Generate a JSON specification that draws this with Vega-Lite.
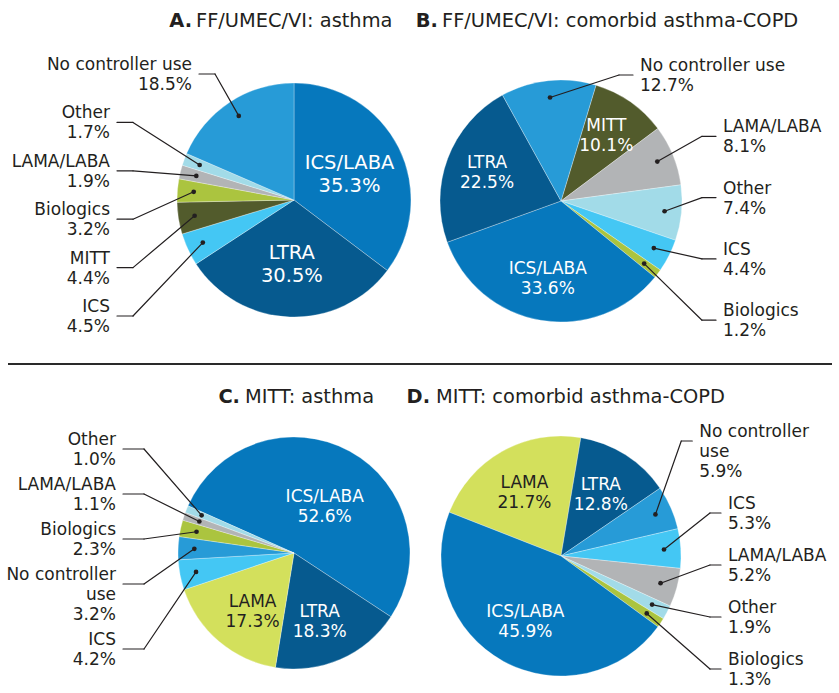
{
  "$schema": "https://vega.github.io/schema/vega-lite/v6.json",
  "padding": 0,
  "background": "white",
  "config": {"view": {"stroke": null}},
  "datasets": {
    "pies": [
      {"pie": "A", "category": "ICS/LABA", "value": 35.3, "order": 1},
      {"pie": "A", "category": "LTRA", "value": 30.5, "order": 2},
      {"pie": "A", "category": "ICS", "value": 4.5, "order": 3},
      {"pie": "A", "category": "MITT", "value": 4.4, "order": 4},
      {"pie": "A", "category": "Biologics", "value": 3.2, "order": 5},
      {"pie": "A", "category": "LAMA/LABA", "value": 1.9, "order": 6},
      {"pie": "A", "category": "Other", "value": 1.7, "order": 7},
      {"pie": "A", "category": "No controller use", "value": 18.5, "order": 8},
      {"pie": "B", "category": "MITT", "value": 10.1, "order": 1},
      {"pie": "B", "category": "LAMA/LABA", "value": 8.1, "order": 2},
      {"pie": "B", "category": "Other", "value": 7.4, "order": 3},
      {"pie": "B", "category": "ICS", "value": 4.4, "order": 4},
      {"pie": "B", "category": "Biologics", "value": 1.2, "order": 5},
      {"pie": "B", "category": "ICS/LABA", "value": 33.6, "order": 6},
      {"pie": "B", "category": "LTRA", "value": 22.5, "order": 7},
      {"pie": "B", "category": "No controller use", "value": 12.7, "order": 8},
      {"pie": "C", "category": "ICS/LABA", "value": 52.6, "order": 1},
      {"pie": "C", "category": "LTRA", "value": 18.3, "order": 2},
      {"pie": "C", "category": "LAMA", "value": 17.3, "order": 3},
      {"pie": "C", "category": "ICS", "value": 4.2, "order": 4},
      {"pie": "C", "category": "No controller use", "value": 3.2, "order": 5},
      {"pie": "C", "category": "Biologics", "value": 2.3, "order": 6},
      {"pie": "C", "category": "LAMA/LABA", "value": 1.1, "order": 7},
      {"pie": "C", "category": "Other", "value": 1.0, "order": 8},
      {"pie": "D", "category": "LAMA", "value": 21.7, "order": 1},
      {"pie": "D", "category": "LTRA", "value": 12.8, "order": 2},
      {"pie": "D", "category": "No controller use", "value": 5.9, "order": 3},
      {"pie": "D", "category": "ICS", "value": 5.3, "order": 4},
      {"pie": "D", "category": "LAMA/LABA", "value": 5.2, "order": 5},
      {"pie": "D", "category": "Other", "value": 1.9, "order": 6},
      {"pie": "D", "category": "Biologics", "value": 1.3, "order": 7},
      {"pie": "D", "category": "ICS/LABA", "value": 45.9, "order": 8}
    ]
  },
  "data": {"name": "pies"},
  "spacing": 0,
  "vconcat": [
    {
      "spacing": 0,
      "bounds": "flush",
      "hconcat": [
        {
          "width": 420,
          "height": 360,
          "transform": [
            {"filter": "datum.pie == 'A'"},
            {"joinaggregate": [{"op": "sum", "field": "value", "as": "total"}]},
            {"window": [{"op": "sum", "field": "value", "as": "cum"}], "sort": [{"field": "order", "order": "ascending"}], "frame": [null, 0]},
            {"calculate": "(0 + 2*PI*(datum.cum - datum.value/2)/datum.total + 4*PI) % (2*PI)", "as": "mid"},
            {"calculate": "datum.value >= 10 && datum.category != 'No controller use'", "as": "inside"},
            {"calculate": "datum.category + '\\n' + format(datum.value, '.1f') + '%'", "as": "label"},
            {"calculate": "length(split(datum.label, '\\n')) - 2", "as": "extra"},
            {"calculate": "-datum.mid", "as": "key"},
            {"window": [{"op": "row_number", "as": "rank"}, {"op": "sum", "field": "extra", "as": "cumx"}], "groupby": ["inside"], "sort": [{"field": "key", "order": "ascending"}], "frame": [null, 0]},
            {"calculate": "-126 + 48.4*(datum.rank - 1) + 20*(datum.cumx - datum.extra)", "as": "ly"},
            {"calculate": "-1*min(184, (datum.ly < 0 ? sqrt(max(0, 117*117 - datum.ly*datum.ly)) : 117) + 102)", "as": "tx"},
            {"calculate": "datum.tx + 7", "as": "nx"},
            {"calculate": "datum.nx + 16", "as": "ex"},
            {"calculate": "datum.ly - 19", "as": "ty"},
            {"calculate": "0.86*117*sin(datum.mid)", "as": "px"},
            {"calculate": "-0.86*117*cos(datum.mid)", "as": "py"},
            {"calculate": "62*sin(datum.mid)", "as": "ix"},
            {"calculate": "-62*cos(datum.mid) - 20", "as": "iy"}
          ],
          "layer": [
            {
              "mark": {"type": "arc", "outerRadius": 117, "stroke": "#ffffff", "strokeWidth": 0.3},
              "encoding": {
                "theta": {"field": "value", "type": "quantitative", "stack": true, "scale": {"range": [0, 6.283185]}},
                "order": {"field": "order", "type": "quantitative"},
                "color": {"field": "category", "type": "nominal", "legend": null, "scale": {"domain": ["ICS/LABA", "LTRA", "ICS", "MITT", "Biologics", "LAMA/LABA", "Other", "No controller use", "LAMA"], "range": ["#0678bd", "#065a8f", "#44c7f4", "#525b2c", "#abc43f", "#b2b4b6", "#a2dbe8", "#279bd7", "#d3e05c"]}},
                "x": {"datum": 0, "type": "quantitative", "axis": null, "scale": {"domain": [-294, 126], "nice": false, "zero": false}},
                "y": {"datum": 0, "type": "quantitative", "axis": null, "scale": {"domain": [-200, 160], "reverse": true, "nice": false, "zero": false}}
              }
            },
            {
              "transform": [{"filter": "datum.inside"}],
              "mark": {"type": "text", "font": "DejaVu Sans", "fontSize": 19.5, "lineHeight": 23, "align": "center", "baseline": "line-top", "lineBreak": "\n"},
              "encoding": {
                "x": {"field": "ix", "type": "quantitative", "axis": null, "scale": {"domain": [-294, 126], "nice": false, "zero": false}},
                "y": {"field": "iy", "type": "quantitative", "axis": null, "scale": {"domain": [-200, 160], "reverse": true, "nice": false, "zero": false}},
                "text": {"field": "label"},
                "color": {"condition": {"test": "datum.category == 'LAMA'", "value": "#231f20"}, "value": "#ffffff"}
              }
            },
            {
              "transform": [{"filter": "!datum.inside"}],
              "mark": {"type": "rule", "color": "#231f20", "strokeWidth": 1.2, "strokeCap": "round"},
              "encoding": {
                "x": {"field": "px", "type": "quantitative", "axis": null, "scale": {"domain": [-294, 126], "nice": false, "zero": false}},
                "y": {"field": "py", "type": "quantitative", "axis": null, "scale": {"domain": [-200, 160], "reverse": true, "nice": false, "zero": false}},
                "x2": {"field": "ex"},
                "y2": {"field": "ly"}
              }
            },
            {
              "transform": [{"filter": "!datum.inside"}],
              "mark": {"type": "rule", "color": "#231f20", "strokeWidth": 1.2, "strokeCap": "round"},
              "encoding": {
                "x": {"field": "ex", "type": "quantitative", "axis": null, "scale": {"domain": [-294, 126], "nice": false, "zero": false}},
                "y": {"field": "ly", "type": "quantitative", "axis": null, "scale": {"domain": [-200, 160], "reverse": true, "nice": false, "zero": false}},
                "x2": {"field": "nx"},
                "y2": {"field": "ly"}
              }
            },
            {
              "transform": [{"filter": "!datum.inside"}],
              "mark": {"type": "circle", "size": 22, "color": "#231f20", "opacity": 1},
              "encoding": {
                "x": {"field": "px", "type": "quantitative", "axis": null, "scale": {"domain": [-294, 126], "nice": false, "zero": false}},
                "y": {"field": "py", "type": "quantitative", "axis": null, "scale": {"domain": [-200, 160], "reverse": true, "nice": false, "zero": false}}
              }
            },
            {
              "transform": [{"filter": "!datum.inside"}],
              "mark": {"type": "text", "font": "DejaVu Sans", "fontSize": 17, "lineHeight": 20, "align": "right", "baseline": "line-top", "lineBreak": "\n", "color": "#231f20"},
              "encoding": {
                "x": {"field": "tx", "type": "quantitative", "axis": null, "scale": {"domain": [-294, 126], "nice": false, "zero": false}},
                "y": {"field": "ty", "type": "quantitative", "axis": null, "scale": {"domain": [-200, 160], "reverse": true, "nice": false, "zero": false}},
                "text": {"field": "label"}
              }
            },
            {
              "transform": [{"filter": "datum.order == 1"}],
              "mark": {"type": "text", "text": "A.", "font": "DejaVu Sans", "fontSize": 19.4, "fontWeight": "bold", "align": "right", "baseline": "alphabetic", "color": "#231f20"},
              "encoding": {
                "x": {"datum": -102, "type": "quantitative", "axis": null, "scale": {"domain": [-294, 126], "nice": false, "zero": false}},
                "y": {"datum": -173, "type": "quantitative", "axis": null, "scale": {"domain": [-200, 160], "reverse": true, "nice": false, "zero": false}}
              }
            },
            {
              "transform": [{"filter": "datum.order == 1"}],
              "mark": {"type": "text", "text": "FF/UMEC/VI: asthma", "font": "DejaVu Sans", "fontSize": 19.4, "align": "left", "baseline": "alphabetic", "color": "#231f20"},
              "encoding": {
                "x": {"datum": -98, "type": "quantitative", "axis": null, "scale": {"domain": [-294, 126], "nice": false, "zero": false}},
                "y": {"datum": -173, "type": "quantitative", "axis": null, "scale": {"domain": [-200, 160], "reverse": true, "nice": false, "zero": false}}
              }
            }
          ]
        },
        {
          "width": 419,
          "height": 360,
          "transform": [
            {"filter": "datum.pie == 'B'"},
            {"joinaggregate": [{"op": "sum", "field": "value", "as": "total"}]},
            {"window": [{"op": "sum", "field": "value", "as": "cum"}], "sort": [{"field": "order", "order": "ascending"}], "frame": [null, 0]},
            {"calculate": "(0.29322 + 2*PI*(datum.cum - datum.value/2)/datum.total + 4*PI) % (2*PI)", "as": "mid"},
            {"calculate": "datum.value >= 10 && datum.category != 'No controller use'", "as": "inside"},
            {"calculate": "datum.category + '\\n' + format(datum.value, '.1f') + '%'", "as": "label"},
            {"calculate": "length(split(datum.label, '\\n')) - 2", "as": "extra"},
            {"calculate": "datum.mid > PI ? datum.mid - 2*PI : datum.mid", "as": "key"},
            {"window": [{"op": "row_number", "as": "rank"}, {"op": "sum", "field": "extra", "as": "cumx"}], "groupby": ["inside"], "sort": [{"field": "key", "order": "ascending"}], "frame": [null, 0]},
            {"calculate": "-126 + 61.3*(datum.rank - 1) + 20*(datum.cumx - datum.extra)", "as": "ly"},
            {"calculate": "min(162, (datum.ly < 0 ? sqrt(max(0, 121*121 - datum.ly*datum.ly)) : 121) + 79)", "as": "tx"},
            {"calculate": "datum.tx - 7", "as": "nx"},
            {"calculate": "datum.nx - 14", "as": "ex"},
            {"calculate": "datum.ly - 19", "as": "ty"},
            {"calculate": "0.86*121*sin(datum.mid)", "as": "px"},
            {"calculate": "-0.86*121*cos(datum.mid)", "as": "py"},
            {"calculate": "79*sin(datum.mid)", "as": "ix"},
            {"calculate": "-79*cos(datum.mid) - 20", "as": "iy"}
          ],
          "layer": [
            {
              "mark": {"type": "arc", "outerRadius": 121, "stroke": "#ffffff", "strokeWidth": 0.3},
              "encoding": {
                "theta": {"field": "value", "type": "quantitative", "stack": true, "scale": {"range": [0.29322, 6.57641]}},
                "order": {"field": "order", "type": "quantitative"},
                "color": {"field": "category", "type": "nominal", "legend": null, "scale": {"domain": ["ICS/LABA", "LTRA", "ICS", "MITT", "Biologics", "LAMA/LABA", "Other", "No controller use", "LAMA"], "range": ["#0678bd", "#065a8f", "#44c7f4", "#525b2c", "#abc43f", "#b2b4b6", "#a2dbe8", "#279bd7", "#d3e05c"]}},
                "x": {"datum": 0, "type": "quantitative", "axis": null, "scale": {"domain": [-141, 278], "nice": false, "zero": false}},
                "y": {"datum": 0, "type": "quantitative", "axis": null, "scale": {"domain": [-201, 159], "reverse": true, "nice": false, "zero": false}}
              }
            },
            {
              "transform": [{"filter": "datum.inside"}],
              "mark": {"type": "text", "font": "DejaVu Sans", "fontSize": 17, "lineHeight": 20, "align": "center", "baseline": "line-top", "lineBreak": "\n"},
              "encoding": {
                "x": {"field": "ix", "type": "quantitative", "axis": null, "scale": {"domain": [-141, 278], "nice": false, "zero": false}},
                "y": {"field": "iy", "type": "quantitative", "axis": null, "scale": {"domain": [-201, 159], "reverse": true, "nice": false, "zero": false}},
                "text": {"field": "label"},
                "color": {"condition": {"test": "datum.category == 'LAMA'", "value": "#231f20"}, "value": "#ffffff"}
              }
            },
            {
              "transform": [{"filter": "!datum.inside"}],
              "mark": {"type": "rule", "color": "#231f20", "strokeWidth": 1.2, "strokeCap": "round"},
              "encoding": {
                "x": {"field": "px", "type": "quantitative", "axis": null, "scale": {"domain": [-141, 278], "nice": false, "zero": false}},
                "y": {"field": "py", "type": "quantitative", "axis": null, "scale": {"domain": [-201, 159], "reverse": true, "nice": false, "zero": false}},
                "x2": {"field": "ex"},
                "y2": {"field": "ly"}
              }
            },
            {
              "transform": [{"filter": "!datum.inside"}],
              "mark": {"type": "rule", "color": "#231f20", "strokeWidth": 1.2, "strokeCap": "round"},
              "encoding": {
                "x": {"field": "ex", "type": "quantitative", "axis": null, "scale": {"domain": [-141, 278], "nice": false, "zero": false}},
                "y": {"field": "ly", "type": "quantitative", "axis": null, "scale": {"domain": [-201, 159], "reverse": true, "nice": false, "zero": false}},
                "x2": {"field": "nx"},
                "y2": {"field": "ly"}
              }
            },
            {
              "transform": [{"filter": "!datum.inside"}],
              "mark": {"type": "circle", "size": 22, "color": "#231f20", "opacity": 1},
              "encoding": {
                "x": {"field": "px", "type": "quantitative", "axis": null, "scale": {"domain": [-141, 278], "nice": false, "zero": false}},
                "y": {"field": "py", "type": "quantitative", "axis": null, "scale": {"domain": [-201, 159], "reverse": true, "nice": false, "zero": false}}
              }
            },
            {
              "transform": [{"filter": "!datum.inside"}],
              "mark": {"type": "text", "font": "DejaVu Sans", "fontSize": 17, "lineHeight": 20, "align": "left", "baseline": "line-top", "lineBreak": "\n", "color": "#231f20"},
              "encoding": {
                "x": {"field": "tx", "type": "quantitative", "axis": null, "scale": {"domain": [-141, 278], "nice": false, "zero": false}},
                "y": {"field": "ty", "type": "quantitative", "axis": null, "scale": {"domain": [-201, 159], "reverse": true, "nice": false, "zero": false}},
                "text": {"field": "label"}
              }
            },
            {
              "transform": [{"filter": "datum.order == 1"}],
              "mark": {"type": "text", "text": "B.", "font": "DejaVu Sans", "fontSize": 19.4, "fontWeight": "bold", "align": "right", "baseline": "alphabetic", "color": "#231f20"},
              "encoding": {
                "x": {"datum": -123, "type": "quantitative", "axis": null, "scale": {"domain": [-141, 278], "nice": false, "zero": false}},
                "y": {"datum": -174, "type": "quantitative", "axis": null, "scale": {"domain": [-201, 159], "reverse": true, "nice": false, "zero": false}}
              }
            },
            {
              "transform": [{"filter": "datum.order == 1"}],
              "mark": {"type": "text", "text": "FF/UMEC/VI: comorbid asthma-COPD", "font": "DejaVu Sans", "fontSize": 19.4, "align": "left", "baseline": "alphabetic", "color": "#231f20"},
              "encoding": {
                "x": {"datum": -119, "type": "quantitative", "axis": null, "scale": {"domain": [-141, 278], "nice": false, "zero": false}},
                "y": {"datum": -174, "type": "quantitative", "axis": null, "scale": {"domain": [-201, 159], "reverse": true, "nice": false, "zero": false}}
              }
            }
          ]
        }
      ]
    },
    {
      "spacing": 0,
      "bounds": "flush",
      "hconcat": [
        {
          "width": 420,
          "height": 333,
          "transform": [
            {"filter": "datum.pie == 'C'"},
            {"joinaggregate": [{"op": "sum", "field": "value", "as": "total"}]},
            {"window": [{"op": "sum", "field": "value", "as": "cum"}], "sort": [{"field": "order", "order": "ascending"}], "frame": [null, 0]},
            {"calculate": "(-1.15192 + 2*PI*(datum.cum - datum.value/2)/datum.total + 4*PI) % (2*PI)", "as": "mid"},
            {"calculate": "datum.value >= 10 && datum.category != 'No controller use'", "as": "inside"},
            {"calculate": "replace(datum.category, 'No controller use', 'No controller\\nuse') + '\\n' + format(datum.value, '.1f') + '%'", "as": "label"},
            {"calculate": "length(split(datum.label, '\\n')) - 2", "as": "extra"},
            {"calculate": "-datum.mid", "as": "key"},
            {"window": [{"op": "row_number", "as": "rank"}, {"op": "sum", "field": "extra", "as": "cumx"}], "groupby": ["inside"], "sort": [{"field": "key", "order": "ascending"}], "frame": [null, 0]},
            {"calculate": "-104 + 45*(datum.rank - 1) + 20*(datum.cumx - datum.extra)", "as": "ly"},
            {"calculate": "-1*min(178, (datum.ly < 0 ? sqrt(max(0, 116*116 - datum.ly*datum.ly)) : 116) + 130)", "as": "tx"},
            {"calculate": "datum.tx + 7", "as": "nx"},
            {"calculate": "datum.nx + 21", "as": "ex"},
            {"calculate": "datum.ly - 19", "as": "ty"},
            {"calculate": "0.86*116*sin(datum.mid)", "as": "px"},
            {"calculate": "-0.86*116*cos(datum.mid)", "as": "py"},
            {"calculate": "64*sin(datum.mid)", "as": "ix"},
            {"calculate": "-64*cos(datum.mid) - 10", "as": "iy"}
          ],
          "layer": [
            {
              "transform": [{"filter": "datum.order == 1"}],
              "mark": {"type": "rule", "color": "#2a2a2a", "strokeWidth": 2},
              "encoding": {
                "x": {"datum": -286, "type": "quantitative", "axis": null, "scale": {"domain": [-294, 126], "nice": false, "zero": false}},
                "x2": {"datum": 126},
                "y": {"datum": -189, "type": "quantitative", "axis": null, "scale": {"domain": [-193, 140], "reverse": true, "nice": false, "zero": false}}
              }
            },
            {
              "mark": {"type": "arc", "outerRadius": 116, "stroke": "#ffffff", "strokeWidth": 0.3},
              "encoding": {
                "theta": {"field": "value", "type": "quantitative", "stack": true, "scale": {"range": [-1.15192, 5.13127]}},
                "order": {"field": "order", "type": "quantitative"},
                "color": {"field": "category", "type": "nominal", "legend": null, "scale": {"domain": ["ICS/LABA", "LTRA", "ICS", "MITT", "Biologics", "LAMA/LABA", "Other", "No controller use", "LAMA"], "range": ["#0678bd", "#065a8f", "#44c7f4", "#525b2c", "#abc43f", "#b2b4b6", "#a2dbe8", "#279bd7", "#d3e05c"]}},
                "x": {"datum": 0, "type": "quantitative", "axis": null, "scale": {"domain": [-294, 126], "nice": false, "zero": false}},
                "y": {"datum": 0, "type": "quantitative", "axis": null, "scale": {"domain": [-193, 140], "reverse": true, "nice": false, "zero": false}}
              }
            },
            {
              "transform": [{"filter": "datum.inside"}],
              "mark": {"type": "text", "font": "DejaVu Sans", "fontSize": 17, "lineHeight": 20, "align": "center", "baseline": "line-top", "lineBreak": "\n"},
              "encoding": {
                "x": {"field": "ix", "type": "quantitative", "axis": null, "scale": {"domain": [-294, 126], "nice": false, "zero": false}},
                "y": {"field": "iy", "type": "quantitative", "axis": null, "scale": {"domain": [-193, 140], "reverse": true, "nice": false, "zero": false}},
                "text": {"field": "label"},
                "color": {"condition": {"test": "datum.category == 'LAMA'", "value": "#231f20"}, "value": "#ffffff"}
              }
            },
            {
              "transform": [{"filter": "!datum.inside"}],
              "mark": {"type": "rule", "color": "#231f20", "strokeWidth": 1.2, "strokeCap": "round"},
              "encoding": {
                "x": {"field": "px", "type": "quantitative", "axis": null, "scale": {"domain": [-294, 126], "nice": false, "zero": false}},
                "y": {"field": "py", "type": "quantitative", "axis": null, "scale": {"domain": [-193, 140], "reverse": true, "nice": false, "zero": false}},
                "x2": {"field": "ex"},
                "y2": {"field": "ly"}
              }
            },
            {
              "transform": [{"filter": "!datum.inside"}],
              "mark": {"type": "rule", "color": "#231f20", "strokeWidth": 1.2, "strokeCap": "round"},
              "encoding": {
                "x": {"field": "ex", "type": "quantitative", "axis": null, "scale": {"domain": [-294, 126], "nice": false, "zero": false}},
                "y": {"field": "ly", "type": "quantitative", "axis": null, "scale": {"domain": [-193, 140], "reverse": true, "nice": false, "zero": false}},
                "x2": {"field": "nx"},
                "y2": {"field": "ly"}
              }
            },
            {
              "transform": [{"filter": "!datum.inside"}],
              "mark": {"type": "circle", "size": 22, "color": "#231f20", "opacity": 1},
              "encoding": {
                "x": {"field": "px", "type": "quantitative", "axis": null, "scale": {"domain": [-294, 126], "nice": false, "zero": false}},
                "y": {"field": "py", "type": "quantitative", "axis": null, "scale": {"domain": [-193, 140], "reverse": true, "nice": false, "zero": false}}
              }
            },
            {
              "transform": [{"filter": "!datum.inside"}],
              "mark": {"type": "text", "font": "DejaVu Sans", "fontSize": 17, "lineHeight": 20, "align": "right", "baseline": "line-top", "lineBreak": "\n", "color": "#231f20"},
              "encoding": {
                "x": {"field": "tx", "type": "quantitative", "axis": null, "scale": {"domain": [-294, 126], "nice": false, "zero": false}},
                "y": {"field": "ty", "type": "quantitative", "axis": null, "scale": {"domain": [-193, 140], "reverse": true, "nice": false, "zero": false}},
                "text": {"field": "label"}
              }
            },
            {
              "transform": [{"filter": "datum.order == 1"}],
              "mark": {"type": "text", "text": "C.", "font": "DejaVu Sans", "fontSize": 19.4, "fontWeight": "bold", "align": "right", "baseline": "alphabetic", "color": "#231f20"},
              "encoding": {
                "x": {"datum": -54, "type": "quantitative", "axis": null, "scale": {"domain": [-294, 126], "nice": false, "zero": false}},
                "y": {"datum": -150, "type": "quantitative", "axis": null, "scale": {"domain": [-193, 140], "reverse": true, "nice": false, "zero": false}}
              }
            },
            {
              "transform": [{"filter": "datum.order == 1"}],
              "mark": {"type": "text", "text": "MITT: asthma", "font": "DejaVu Sans", "fontSize": 19.4, "align": "left", "baseline": "alphabetic", "color": "#231f20"},
              "encoding": {
                "x": {"datum": -49, "type": "quantitative", "axis": null, "scale": {"domain": [-294, 126], "nice": false, "zero": false}},
                "y": {"datum": -150, "type": "quantitative", "axis": null, "scale": {"domain": [-193, 140], "reverse": true, "nice": false, "zero": false}}
              }
            }
          ]
        },
        {
          "width": 419,
          "height": 333,
          "transform": [
            {"filter": "datum.pie == 'D'"},
            {"joinaggregate": [{"op": "sum", "field": "value", "as": "total"}]},
            {"window": [{"op": "sum", "field": "value", "as": "cum"}], "sort": [{"field": "order", "order": "ascending"}], "frame": [null, 0]},
            {"calculate": "(-1.19730 + 2*PI*(datum.cum - datum.value/2)/datum.total + 4*PI) % (2*PI)", "as": "mid"},
            {"calculate": "datum.value >= 10 && datum.category != 'No controller use'", "as": "inside"},
            {"calculate": "replace(datum.category, 'No controller use', 'No controller\\nuse') + '\\n' + format(datum.value, '.1f') + '%'", "as": "label"},
            {"calculate": "length(split(datum.label, '\\n')) - 2", "as": "extra"},
            {"calculate": "datum.mid > PI ? datum.mid - 2*PI : datum.mid", "as": "key"},
            {"window": [{"op": "row_number", "as": "rank"}, {"op": "sum", "field": "extra", "as": "cumx"}], "groupby": ["inside"], "sort": [{"field": "key", "order": "ascending"}], "frame": [null, 0]},
            {"calculate": "-115 + 52*(datum.rank - 1) + 20*(datum.cumx - datum.extra)", "as": "ly"},
            {"calculate": "min(167, (datum.ly < 0 ? sqrt(max(0, 120*120 - datum.ly*datum.ly)) : 120) + 104)", "as": "tx"},
            {"calculate": "datum.tx - 7", "as": "nx"},
            {"calculate": "datum.nx - 11", "as": "ex"},
            {"calculate": "datum.ly - 19", "as": "ty"},
            {"calculate": "0.86*120*sin(datum.mid)", "as": "px"},
            {"calculate": "-0.86*120*cos(datum.mid)", "as": "py"},
            {"calculate": "74*sin(datum.mid)", "as": "ix"},
            {"calculate": "-74*cos(datum.mid) - 19", "as": "iy"}
          ],
          "layer": [
            {
              "transform": [{"filter": "datum.order == 1"}],
              "mark": {"type": "rule", "color": "#2a2a2a", "strokeWidth": 2},
              "encoding": {
                "x": {"datum": -141, "type": "quantitative", "axis": null, "scale": {"domain": [-141, 278], "nice": false, "zero": false}},
                "x2": {"datum": 271},
                "y": {"datum": -192, "type": "quantitative", "axis": null, "scale": {"domain": [-196, 137], "reverse": true, "nice": false, "zero": false}}
              }
            },
            {
              "mark": {"type": "arc", "outerRadius": 120, "stroke": "#ffffff", "strokeWidth": 0.3},
              "encoding": {
                "theta": {"field": "value", "type": "quantitative", "stack": true, "scale": {"range": [-1.19730, 5.08589]}},
                "order": {"field": "order", "type": "quantitative"},
                "color": {"field": "category", "type": "nominal", "legend": null, "scale": {"domain": ["ICS/LABA", "LTRA", "ICS", "MITT", "Biologics", "LAMA/LABA", "Other", "No controller use", "LAMA"], "range": ["#0678bd", "#065a8f", "#44c7f4", "#525b2c", "#abc43f", "#b2b4b6", "#a2dbe8", "#279bd7", "#d3e05c"]}},
                "x": {"datum": 0, "type": "quantitative", "axis": null, "scale": {"domain": [-141, 278], "nice": false, "zero": false}},
                "y": {"datum": 0, "type": "quantitative", "axis": null, "scale": {"domain": [-196, 137], "reverse": true, "nice": false, "zero": false}}
              }
            },
            {
              "transform": [{"filter": "datum.inside"}],
              "mark": {"type": "text", "font": "DejaVu Sans", "fontSize": 17, "lineHeight": 20, "align": "center", "baseline": "line-top", "lineBreak": "\n"},
              "encoding": {
                "x": {"field": "ix", "type": "quantitative", "axis": null, "scale": {"domain": [-141, 278], "nice": false, "zero": false}},
                "y": {"field": "iy", "type": "quantitative", "axis": null, "scale": {"domain": [-196, 137], "reverse": true, "nice": false, "zero": false}},
                "text": {"field": "label"},
                "color": {"condition": {"test": "datum.category == 'LAMA'", "value": "#231f20"}, "value": "#ffffff"}
              }
            },
            {
              "transform": [{"filter": "!datum.inside"}],
              "mark": {"type": "rule", "color": "#231f20", "strokeWidth": 1.2, "strokeCap": "round"},
              "encoding": {
                "x": {"field": "px", "type": "quantitative", "axis": null, "scale": {"domain": [-141, 278], "nice": false, "zero": false}},
                "y": {"field": "py", "type": "quantitative", "axis": null, "scale": {"domain": [-196, 137], "reverse": true, "nice": false, "zero": false}},
                "x2": {"field": "ex"},
                "y2": {"field": "ly"}
              }
            },
            {
              "transform": [{"filter": "!datum.inside"}],
              "mark": {"type": "rule", "color": "#231f20", "strokeWidth": 1.2, "strokeCap": "round"},
              "encoding": {
                "x": {"field": "ex", "type": "quantitative", "axis": null, "scale": {"domain": [-141, 278], "nice": false, "zero": false}},
                "y": {"field": "ly", "type": "quantitative", "axis": null, "scale": {"domain": [-196, 137], "reverse": true, "nice": false, "zero": false}},
                "x2": {"field": "nx"},
                "y2": {"field": "ly"}
              }
            },
            {
              "transform": [{"filter": "!datum.inside"}],
              "mark": {"type": "circle", "size": 22, "color": "#231f20", "opacity": 1},
              "encoding": {
                "x": {"field": "px", "type": "quantitative", "axis": null, "scale": {"domain": [-141, 278], "nice": false, "zero": false}},
                "y": {"field": "py", "type": "quantitative", "axis": null, "scale": {"domain": [-196, 137], "reverse": true, "nice": false, "zero": false}}
              }
            },
            {
              "transform": [{"filter": "!datum.inside"}],
              "mark": {"type": "text", "font": "DejaVu Sans", "fontSize": 17, "lineHeight": 20, "align": "left", "baseline": "line-top", "lineBreak": "\n", "color": "#231f20"},
              "encoding": {
                "x": {"field": "tx", "type": "quantitative", "axis": null, "scale": {"domain": [-141, 278], "nice": false, "zero": false}},
                "y": {"field": "ty", "type": "quantitative", "axis": null, "scale": {"domain": [-196, 137], "reverse": true, "nice": false, "zero": false}},
                "text": {"field": "label"}
              }
            },
            {
              "transform": [{"filter": "datum.order == 1"}],
              "mark": {"type": "text", "text": "D.", "font": "DejaVu Sans", "fontSize": 19.4, "fontWeight": "bold", "align": "right", "baseline": "alphabetic", "color": "#231f20"},
              "encoding": {
                "x": {"datum": -131, "type": "quantitative", "axis": null, "scale": {"domain": [-141, 278], "nice": false, "zero": false}},
                "y": {"datum": -153, "type": "quantitative", "axis": null, "scale": {"domain": [-196, 137], "reverse": true, "nice": false, "zero": false}}
              }
            },
            {
              "transform": [{"filter": "datum.order == 1"}],
              "mark": {"type": "text", "text": "MITT: comorbid asthma-COPD", "font": "DejaVu Sans", "fontSize": 19.4, "align": "left", "baseline": "alphabetic", "color": "#231f20"},
              "encoding": {
                "x": {"datum": -125, "type": "quantitative", "axis": null, "scale": {"domain": [-141, 278], "nice": false, "zero": false}},
                "y": {"datum": -153, "type": "quantitative", "axis": null, "scale": {"domain": [-196, 137], "reverse": true, "nice": false, "zero": false}}
              }
            }
          ]
        }
      ]
    }
  ]
}
